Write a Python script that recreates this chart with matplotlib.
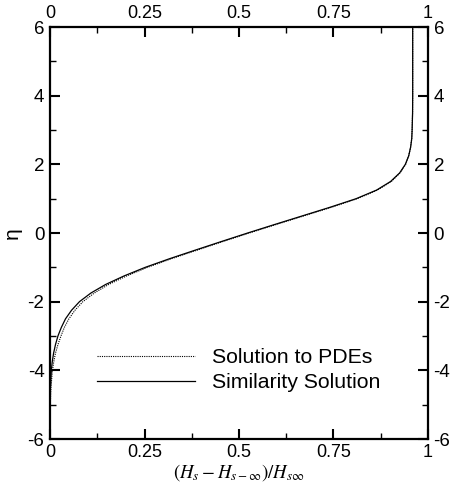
import matplotlib
matplotlib.use("Agg")
import matplotlib.pyplot as plt
from matplotlib.ticker import MultipleLocator, FixedLocator, FixedFormatter

plt.rcParams["font.family"] = ["Liberation Sans", "DejaVu Sans"]
plt.rcParams["mathtext.fontset"] = "stix"
plt.rcParams["axes.unicode_minus"] = False

# Similarity variable eta and normalised enthalpy profile
eta_sim = [-6.0, -5.0, -4.5, -4.0, -3.75, -3.5, -3.25, -3.0, -2.75, -2.5,
           -2.25, -2.0, -1.75, -1.5, -1.25, -1.0, -0.75, -0.5, -0.25, 0.0,
           0.25, 0.5, 0.75, 1.0, 1.25, 1.5, 1.75, 2.0, 2.25, 2.5,
           2.75, 3.0, 3.5, 4.0, 6.0]
h_sim = [0.0, 0.0003, 0.0012, 0.0035, 0.006, 0.0095, 0.0145, 0.021, 0.030, 0.041,
         0.057, 0.078, 0.108, 0.147, 0.196, 0.252, 0.316, 0.384, 0.453, 0.523,
         0.595, 0.668, 0.741, 0.810, 0.864, 0.901, 0.925, 0.940, 0.949, 0.954,
         0.957, 0.958, 0.9592, 0.9595, 0.9595]

eta_pde = [-6.0, -5.0, -4.5, -4.0, -3.75, -3.5, -3.25, -3.0, -2.75, -2.5,
           -2.25, -2.0, -1.75, -1.5, -1.25, -1.0, -0.75, -0.5, -0.25, 0.0,
           0.25, 0.5, 0.75, 1.0, 1.25, 1.5, 1.75, 2.0, 2.25, 2.5,
           2.75, 3.0, 3.5, 4.0, 6.0]
h_pde = [0.0, 0.0008, 0.0025, 0.0065, 0.010, 0.0145, 0.021, 0.029, 0.038, 0.050,
         0.066, 0.087, 0.117, 0.155, 0.203, 0.258, 0.321, 0.389, 0.457, 0.527,
         0.599, 0.672, 0.745, 0.813, 0.866, 0.903, 0.926, 0.941, 0.949, 0.954,
         0.957, 0.958, 0.9592, 0.9595, 0.9595]

x_ticks = [0, 0.25, 0.5, 0.75, 1]
x_tick_labels = ["0", "0.25", "0.5", "0.75", "1"]
y_ticks = [-6, -4, -2, 0, 2, 4, 6]
y_tick_labels = ["-6", "-4", "-2", "0", "2", "4", "6"]

fig = plt.figure(figsize=(4.5, 4.83), dpi=100)
ax = fig.add_axes([50 / 450, 44 / 483, 378 / 450, 412 / 483])

ax.plot(h_pde, eta_pde, color="black", linestyle=(0, (1, 1)), linewidth=0.8,
        label="Solution to PDEs")
ax.plot(h_sim, eta_sim, color="black", linestyle="-", linewidth=0.9,
        label="Similarity Solution")

ax.set_xlim(0, 1)
ax.set_ylim(-6, 6)

ax.xaxis.set_major_locator(FixedLocator(x_ticks))
ax.xaxis.set_major_formatter(FixedFormatter(x_tick_labels))
ax.xaxis.set_minor_locator(MultipleLocator(0.125))
ax.yaxis.set_major_locator(FixedLocator(y_ticks))
ax.yaxis.set_major_formatter(FixedFormatter(y_tick_labels))
ax.yaxis.set_minor_locator(MultipleLocator(1))

ax.tick_params(which="both", direction="in", top=True, right=True,
               labeltop=True, labelright=True, labelsize=13.5, pad=4)
ax.tick_params(axis="x", which="both", labelsize=13, pad=3.5)
ax.tick_params(which="major", length=7.5, width=1.5)
ax.tick_params(which="minor", length=4.5, width=1.0)
for sp in ax.spines.values():
    sp.set_linewidth(1.6)

ax.set_xlabel(r"$(H_s - H_{s-\infty})/H_{s\infty}$", fontsize=13.5, labelpad=1)
ax.set_ylabel("η", fontsize=15)
ax.yaxis.set_label_coords(-0.075, 0.5)

leg = ax.legend(loc="center left", bbox_to_anchor=(0.124, 0.167), frameon=False,
                fontsize=15.3, handlelength=4.6, handletextpad=0.8,
                labelspacing=0.28, borderpad=0, borderaxespad=0)

fig.savefig("out.png", dpi=100)
